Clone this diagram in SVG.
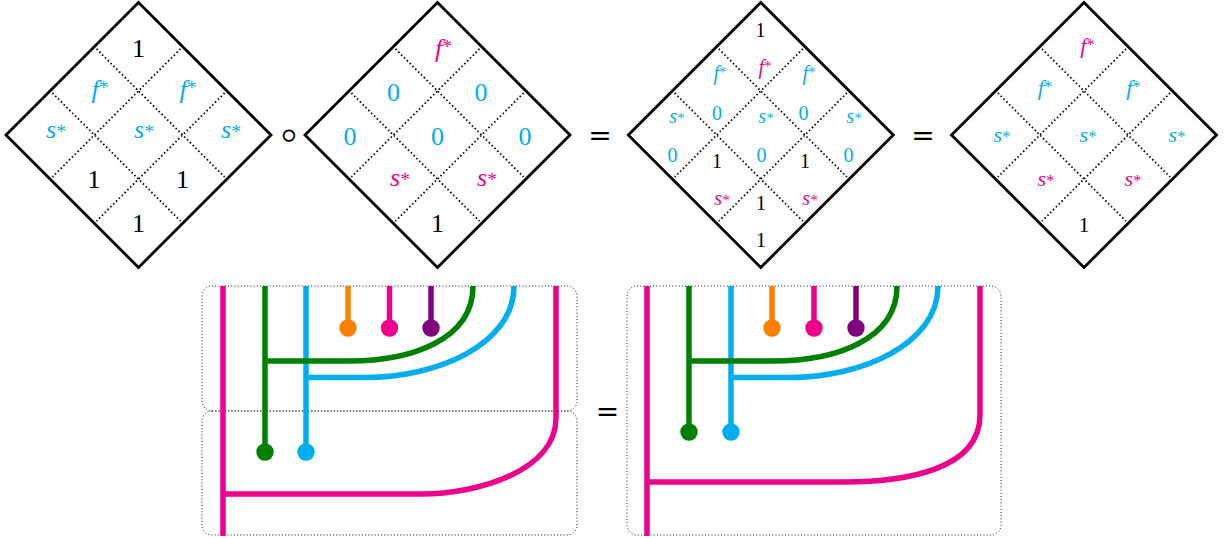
<svg xmlns="http://www.w3.org/2000/svg" width="1224" height="538" viewBox="0 0 1224 538">
<style>
.b{fill:none;stroke:#000;stroke-width:2.8}
.d{fill:none;stroke:#000;stroke-width:1.8;stroke-dasharray:1.5 2.5}
.t{font-family:"Liberation Serif",serif;text-anchor:middle}
.i{font-style:italic}
.s{font-style:normal}
.k{fill:#000}.c{fill:#00AEEF}.m{fill:#EC008C}
.f26{font-size:26px}.f22{font-size:22px}.f20{font-size:20px}
.op{font-family:"DejaVu Sans",sans-serif;text-anchor:middle;fill:#000}
.o28{font-size:28px}.o46{font-size:46px;font-weight:200}
.bx{fill:none;stroke:#000;stroke-width:0.9;stroke-dasharray:1 2.2}
.w{fill:none;stroke-width:5.5}
.gr{stroke:#008000}.cy{stroke:#00AEEF}.mg{stroke:#EC008C}.or{stroke:#FF8000}.pu{stroke:#800080}
</style>
<defs>
<g id="dgrid">
<path class="d" d="M-42,-86.1L86.1,42M-86.1,-42L42,86.1M42,-86.1L-86.1,42M86.1,-42L-42,86.1"/>
<path class="b" d="M0,-132.5L132.5,0L0,132.5L-132.5,0Z"/>
</g>
</defs>

<g id="diamond1">
<use href="#dgrid" x="138.5" y="135"/>
<g class="t f26">
<text class="k" x="138.5" y="57">1</text>
<text class="c i" x="100" y="98">f<tspan class="s" font-size="19.5" dy="-4">*</tspan></text>
<text class="c i" x="188" y="98">f<tspan class="s" font-size="19.5" dy="-4">*</tspan></text>
<text class="c i" x="56" y="138">s<tspan class="s" font-size="19.5">*</tspan></text>
<text class="c i" x="144" y="138">s<tspan class="s" font-size="19.5">*</tspan></text>
<text class="c i" x="231" y="138">s<tspan class="s" font-size="19.5">*</tspan></text>
<text class="k" x="94" y="188">1</text>
<text class="k" x="182.5" y="188">1</text>
<text class="k" x="138.5" y="232">1</text>
</g>
</g>

<g id="op-compose"><text class="op o46" x="289" y="150">∘</text></g>

<g id="diamond2">
<use href="#dgrid" x="437.5" y="135"/>
<g class="t f26">
<text class="m i" x="443.5" y="57">f<tspan class="s" font-size="19.5" dy="-4">*</tspan></text>
<text class="c" x="393.5" y="101">0</text>
<text class="c" x="481" y="101">0</text>
<text class="c" x="350" y="145">0</text>
<text class="c" x="437.5" y="145">0</text>
<text class="c" x="525" y="145">0</text>
<text class="m i" x="400" y="186">s<tspan class="s" font-size="19.5">*</tspan></text>
<text class="m i" x="487" y="186">s<tspan class="s" font-size="19.5">*</tspan></text>
<text class="k" x="437.5" y="232">1</text>
</g>
</g>

<g id="op-eq1"><text class="op o28" x="600" y="145">=</text></g>

<g id="diamond3">
<use href="#dgrid" x="760.8" y="135"/>
<g class="t f20">
<text class="k" x="760.5" y="37">1</text>
<text class="c i" x="720" y="80">f<tspan class="s" font-size="15" dy="-3">*</tspan></text>
<text class="m i" x="765" y="74">f<tspan class="s" font-size="15" dy="-3">*</tspan></text>
<text class="c i" x="809" y="80">f<tspan class="s" font-size="15" dy="-3">*</tspan></text>
<text class="c i" x="677" y="123">s<tspan class="s" font-size="15">*</tspan></text>
<text class="c" x="717" y="120">0</text>
<text class="c i" x="766" y="123">s<tspan class="s" font-size="15">*</tspan></text>
<text class="c" x="803.5" y="120">0</text>
<text class="c i" x="854" y="123">s<tspan class="s" font-size="15">*</tspan></text>
<text class="c" x="672.5" y="162">0</text>
<text class="k" x="717" y="168">1</text>
<text class="c" x="761.5" y="162">0</text>
<text class="k" x="805" y="168">1</text>
<text class="c" x="848.5" y="162">0</text>
<text class="m i" x="722" y="205">s<tspan class="s" font-size="15">*</tspan></text>
<text class="k" x="761" y="210">1</text>
<text class="m i" x="810" y="205">s<tspan class="s" font-size="15">*</tspan></text>
<text class="k" x="761" y="247">1</text>
</g>
</g>

<g id="op-eq2"><text class="op o28" x="923" y="145">=</text></g>

<g id="diamond4">
<use href="#dgrid" x="1084" y="135"/>
<g class="t f22">
<text class="m i" x="1087.5" y="53">f<tspan class="s" font-size="16.5" dy="-3">*</tspan></text>
<text class="c i" x="1045" y="95">f<tspan class="s" font-size="16.5" dy="-3">*</tspan></text>
<text class="c i" x="1133.5" y="95">f<tspan class="s" font-size="16.5" dy="-3">*</tspan></text>
<text class="c i" x="1002" y="142">s<tspan class="s" font-size="16.5">*</tspan></text>
<text class="c i" x="1088" y="142">s<tspan class="s" font-size="16.5">*</tspan></text>
<text class="c i" x="1177" y="142">s<tspan class="s" font-size="16.5">*</tspan></text>
<text class="m i" x="1046" y="186">s<tspan class="s" font-size="16.5">*</tspan></text>
<text class="m i" x="1133" y="186">s<tspan class="s" font-size="16.5">*</tspan></text>
<text class="k" x="1084" y="232">1</text>
</g>
</g>

<g id="string-left">
<rect class="bx" x="202" y="286" width="375" height="125" rx="10"/>
<rect class="bx" x="202" y="411" width="375" height="124" rx="10"/>
<g id="connectors-left">
<path class="w mg" d="M223,286V536"/>
<path class="w mg" d="M223,494H420C480,494 556,470 556,418V286"/>
<path class="w cy" d="M306,286V452"/>
<path class="w cy" d="M306,377.5H366C436,377.5 514,345 514,286"/>
<path class="w gr" d="M265,286V452"/>
<path class="w gr" d="M265,361H349C411,361 473,340 473,286"/>
<path class="w or" d="M348,286V328"/>
<path class="w mg" d="M389.5,286V328"/>
<path class="w pu" d="M431,286V328"/>
</g>
<circle cx="265" cy="452" r="8.7" fill="#008000"/>
<circle cx="306" cy="452" r="8.7" fill="#00AEEF"/>
<circle cx="348" cy="328" r="8.7" fill="#FF8000"/>
<circle cx="389.5" cy="328" r="8.7" fill="#EC008C"/>
<circle cx="431" cy="328" r="8.7" fill="#800080"/>
</g>

<g id="op-eq3"><text class="op o28" x="607.5" y="421">=</text></g>

<g id="string-right">
<rect class="bx" x="627" y="286" width="374" height="249" rx="10"/>
<g id="connectors-right">
<path class="w mg" d="M647,286V536"/>
<path class="w mg" d="M647,482H843C905,482 980,470 980,415V286"/>
<path class="w cy" d="M731,286V432"/>
<path class="w cy" d="M731,377.5H790C860,377.5 938,345 938,286"/>
<path class="w gr" d="M689,286V432"/>
<path class="w gr" d="M689,361H773C835,361 897,340 897,286"/>
<path class="w or" d="M772,286V328"/>
<path class="w mg" d="M814,286V328"/>
<path class="w pu" d="M856,286V328"/>
</g>
<circle cx="689" cy="432" r="8.7" fill="#008000"/>
<circle cx="731" cy="432" r="8.7" fill="#00AEEF"/>
<circle cx="772" cy="328" r="8.7" fill="#FF8000"/>
<circle cx="814" cy="328" r="8.7" fill="#EC008C"/>
<circle cx="856" cy="328" r="8.7" fill="#800080"/>
</g>
</svg>
